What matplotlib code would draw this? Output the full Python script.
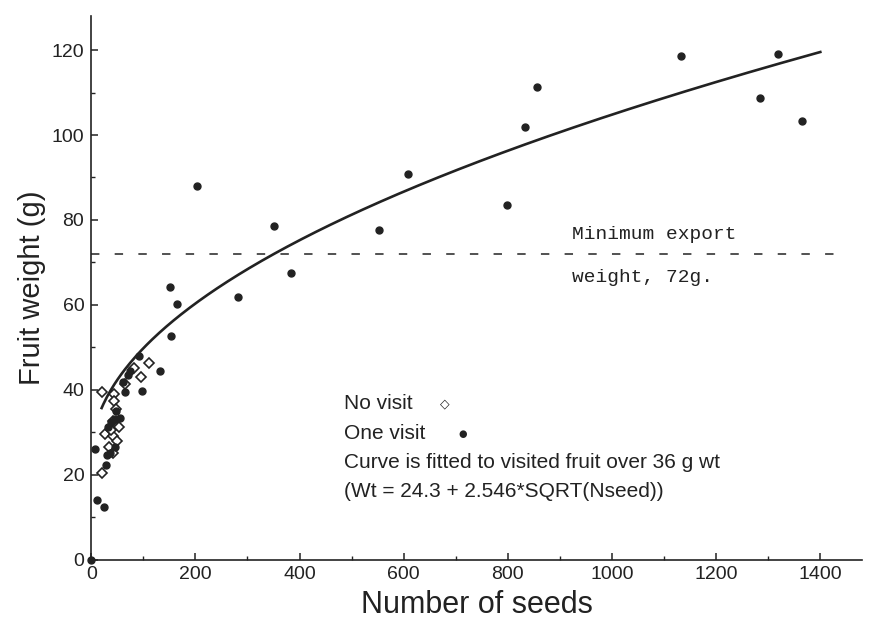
import numpy as np
import matplotlib
matplotlib.use("Agg")
import matplotlib.pyplot as plt

# ---- data ----
novisit_seeds = [20, 44, 44, 47, 41, 53, 27, 42, 34, 42, 21, 64, 83, 95, 111, 38, 50]
novisit_wt    = [39.5, 39.1, 37.3, 35.5, 32.7, 31.2, 29.6, 29.0, 26.4, 25.2, 20.3, 41.4, 45.2, 42.9, 46.4, 30.5, 28.0]

onevisit_seeds = [0, 10.5, 24.5, 7.5, 28, 30, 36, 45, 32, 38, 46, 55, 48, 62, 65, 74, 91, 97, 132,
                  153, 151, 164, 203, 281, 351, 383, 552, 608, 798, 833, 856, 1132, 1285, 1319, 1364, 70]
onevisit_wt    = [0, 14.1, 12.3, 26.0, 22.2, 24.6, 25.0, 26.5, 31.3, 32.5, 33.1, 33.3, 35.1, 41.9, 39.5, 44.4,
                  47.9, 39.6, 44.5, 52.7, 64.2, 60.3, 87.9, 61.9, 78.5, 67.4, 77.6, 90.9, 83.6, 101.9, 111.3,
                  118.6, 108.8, 119.1, 103.4, 43.5]

fit_a, fit_b = 24.3, 2.546
fit_range = (20, 1400)
min_export = 72
dash_end = 1430

xticks = [0, 200, 400, 600, 800, 1000, 1200, 1400]
yticks = [0, 20, 40, 60, 80, 100, 120]

ink = "#222222"
sans = ["Liberation Sans", "DejaVu Sans"]

fig = plt.figure(figsize=(8.72, 6.23), dpi=100)
ax = fig.add_axes([0.1046, 0.1019, 0.8839, 0.8721])

xfit = np.linspace(fit_range[0], fit_range[1], 400)
ax.plot(xfit, fit_a + fit_b * np.sqrt(xfit), color=ink, lw=1.9, zorder=3)

ax.plot([0, dash_end], [min_export, min_export], color=ink, lw=1.1,
        linestyle=(0, (5.5, 10)), zorder=2)

ax.plot(novisit_seeds, novisit_wt, linestyle="none", marker="D", markersize=5,
        markerfacecolor="white", markeredgecolor=ink, markeredgewidth=1.2, zorder=4)
ax.plot(onevisit_seeds, onevisit_wt, linestyle="none", marker="o", markersize=5,
        color=ink, zorder=5, clip_on=False)

ax.set_xlim(0, 1480)
ax.set_ylim(0, 128)
ax.set_xticks(xticks)
ax.set_yticks(yticks)
ax.set_xticks(np.arange(100, 1500, 200), minor=True)
ax.set_yticks(np.arange(10, 130, 20), minor=True)

for s in ["top", "right"]:
    ax.spines[s].set_visible(False)
for s in ["left", "bottom"]:
    ax.spines[s].set_linewidth(1.2)
    ax.spines[s].set_color(ink)

ax.tick_params(which="major", direction="in", length=5, width=1.1, color=ink,
               labelsize=14, pad=5, labelcolor=ink)
ax.tick_params(which="minor", direction="in", length=3, width=1.0, color=ink)
for lab in ax.get_xticklabels() + ax.get_yticklabels():
    lab.set_family(sans)

ax.set_xlabel("Number of seeds", fontsize=22, family=sans, color=ink, labelpad=5)
ax.set_ylabel("Fruit weight (g)", fontsize=21, family=sans, color=ink, labelpad=4)

# threshold label
ax.text(924, 76.6, "Minimum export", family="Liberation Mono", fontsize=14,
        va="center", ha="left", color=ink)
ax.text(924, 66.4, "weight, 72g.", family="Liberation Mono", fontsize=14,
        va="center", ha="left", color=ink)

# key text
lines = ["No visit", "One visit",
         "Curve is fitted to visited fruit over 36 g wt",
         "(Wt = 24.3 + 2.546*SQRT(Nseed))"]
ys = [36.7, 29.6, 22.9, 16.0]
for t, yy in zip(lines, ys):
    ax.text(485, yy, t, fontsize=15, family=sans, va="center", ha="left", color=ink)
ax.text(670, 36.7, "◇", fontsize=9, family=["DejaVu Sans"], va="center", ha="left", color=ink)
ax.text(705, 29.6, "●", fontsize=7, family=["DejaVu Sans"], va="center", ha="left", color=ink)

fig.savefig("out.png", dpi=100, facecolor="white")
